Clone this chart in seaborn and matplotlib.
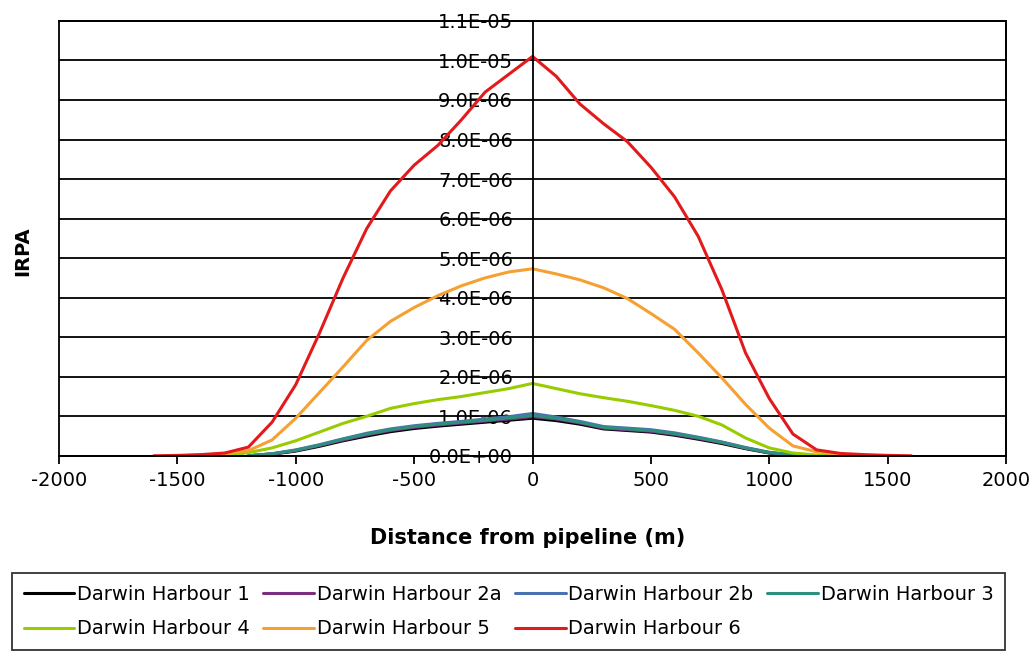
import numpy as np
import pandas as pd
import matplotlib
matplotlib.use("Agg")
import matplotlib.pyplot as plt
import matplotlib.ticker as ticker
import seaborn as sns

nan = np.nan

# Distance from pipeline (m)
distance = [-1600, -1500, -1400, -1300, -1200, -1100, -1000, -900, -800, -700, -600,
            -500, -400, -300, -200, -100, 0, 100, 200, 300, 400, 500,
            600, 700, 800, 900, 1000, 1100, 1200, 1300, 1400, 1500, 1600]

# IRPA values, in units of 1E-06
dh1 = [nan, nan, nan, nan, 0.0, 0.04, 0.12, 0.24, 0.38, 0.5, 0.61, 0.69, 0.75, 0.8, 0.85, 0.9, 0.95,
       0.89, 0.8, 0.68, 0.64, 0.6, 0.52, 0.42, 0.31, 0.18, 0.07, 0.02, 0.0, nan, nan, nan, nan]
dh2a = [nan, nan, nan, nan, 0.0, 0.05, 0.13, 0.26, 0.4, 0.53, 0.64, 0.72, 0.78, 0.83, 0.88, 0.93, 0.99,
        0.93, 0.83, 0.7, 0.66, 0.62, 0.54, 0.44, 0.33, 0.19, 0.08, 0.02, 0.0, nan, nan, nan, nan]
dh2b = [nan, nan, nan, nan, 0.0, 0.05, 0.15, 0.28, 0.43, 0.57, 0.68, 0.76, 0.82, 0.87, 0.93, 0.99, 1.07,
        0.98, 0.87, 0.74, 0.7, 0.66, 0.58, 0.47, 0.35, 0.21, 0.09, 0.02, 0.0, nan, nan, nan, nan]
dh3 = [nan, nan, nan, nan, 0.0, 0.05, 0.14, 0.27, 0.42, 0.55, 0.66, 0.74, 0.8, 0.85, 0.9, 0.96, 1.02,
       0.95, 0.85, 0.72, 0.68, 0.64, 0.56, 0.46, 0.34, 0.2, 0.08, 0.02, 0.0, nan, nan, nan, nan]
dh4 = [nan, nan, nan, 0.0, 0.08, 0.2, 0.38, 0.6, 0.82, 1.0, 1.2, 1.32, 1.42, 1.5, 1.6, 1.7, 1.83,
       1.7, 1.57, 1.47, 1.38, 1.27, 1.15, 1.0, 0.78, 0.45, 0.2, 0.07, 0.02, 0.0, nan, nan, nan]
dh5 = [nan, 0.0, 0.02, 0.05, 0.13, 0.4, 0.95, 1.6, 2.25, 2.92, 3.4, 3.75, 4.05, 4.3, 4.5, 4.65, 4.73,
       4.6, 4.45, 4.25, 3.98, 3.6, 3.2, 2.6, 1.97, 1.3, 0.7, 0.25, 0.1, 0.04, 0.01, 0.0, nan]
dh6 = [0.0, 0.01, 0.03, 0.07, 0.22, 0.85, 1.8, 3.1, 4.5, 5.75, 6.7, 7.35, 7.85, 8.5, 9.2, 9.65, 10.1,
       9.6, 8.9, 8.4, 7.95, 7.3, 6.55, 5.55, 4.2, 2.6, 1.45, 0.55, 0.15, 0.06, 0.03, 0.01, 0.0]

series_names = ["Darwin Harbour 1", "Darwin Harbour 2a", "Darwin Harbour 2b", "Darwin Harbour 3",
                "Darwin Harbour 4", "Darwin Harbour 5", "Darwin Harbour 6"]
series_values = [dh1, dh2a, dh2b, dh3, dh4, dh5, dh6]
colors = ["#000000", "#7b2d7e", "#4a72b0", "#2f8f7f", "#99cc00", "#f5a031", "#e31a1c"]

if __name__ == "__main__":
    frames = []
    for name, vals in zip(series_names, series_values):
        frames.append(pd.DataFrame({"Distance": distance,
                                    "IRPA": np.array(vals) * 1e-6,
                                    "Series": name}))
    df = pd.concat(frames, ignore_index=True)

    sns.set_theme(style="white")
    plt.rcParams["font.family"] = ["DejaVu Sans"]
    plt.rcParams["axes.unicode_minus"] = False
    plt.rcParams["text.color"] = "black"
    plt.rcParams["axes.labelcolor"] = "black"
    plt.rcParams["xtick.color"] = "black"
    plt.rcParams["ytick.color"] = "black"

    fig, ax = plt.subplots(figsize=(10.35, 6.53), dpi=100)
    fig.subplots_adjust(left=0.057, right=0.972, top=0.968, bottom=0.302)

    sns.lineplot(data=df, x="Distance", y="IRPA", hue="Series",
                 palette=dict(zip(series_names, colors)), hue_order=series_names,
                 errorbar=None, linewidth=2.2, ax=ax, legend=False)

    ax.set_xlim(-2000, 2000)
    ax.set_ylim(0, 1.1e-5)
    ax.xaxis.set_major_locator(ticker.MultipleLocator(500))
    ax.yaxis.set_major_locator(ticker.MultipleLocator(1e-6))
    ax.yaxis.set_major_formatter(ticker.FuncFormatter(lambda v, p: f"{v:.1E}"))

    # horizontal gridlines
    ax.grid(axis="y", color="black", linewidth=1.3)
    ax.grid(axis="x", visible=False)
    ax.set_axisbelow(True)

    # y axis crosses at x = 0, frame round the plot area
    for s in ["top", "right", "bottom"]:
        ax.spines[s].set_color("black")
        ax.spines[s].set_linewidth(1.3)
    ax.spines["left"].set_position(("data", 0))
    ax.spines["left"].set_color("black")
    ax.spines["left"].set_linewidth(1.3)
    ax.patch.set_edgecolor("black")
    ax.patch.set_linewidth(1.3)

    ax.tick_params(axis="x", bottom=True, direction="out", length=6, width=1.3,
                   color="black", labelsize=14, pad=5)
    ax.tick_params(axis="y", left=False, length=0, labelsize=14, pad=14)

    ax.set_xlabel("Distance from pipeline (m)", fontsize=15, fontweight="bold")
    ax.set_ylabel("IRPA", fontsize=14, fontweight="bold")
    ax.xaxis.set_label_coords(0.495, -0.165)
    ax.yaxis.set_label_coords(-0.028, 0.47)

    # legend laid out row by row
    handles = [plt.Line2D([], [], color=c, linewidth=2.2) for c in colors]
    order = [0, 4, 1, 5, 2, 6, 3]
    leg = fig.legend([handles[i] for i in order], [series_names[i] for i in order],
                     ncol=4, loc="lower left", mode="expand",
                     bbox_to_anchor=(12 / 1035, 3 / 653, 993 / 1035, 75 / 653),
                     borderaxespad=0, fontsize=14, handlelength=2.6, handletextpad=0.15,
                     fancybox=False, frameon=True, labelspacing=0.8, borderpad=0.6)
    leg.get_frame().set_edgecolor("black")
    leg.get_frame().set_linewidth(1.3)

    plt.savefig("out.png", dpi=100)
    plt.close()
